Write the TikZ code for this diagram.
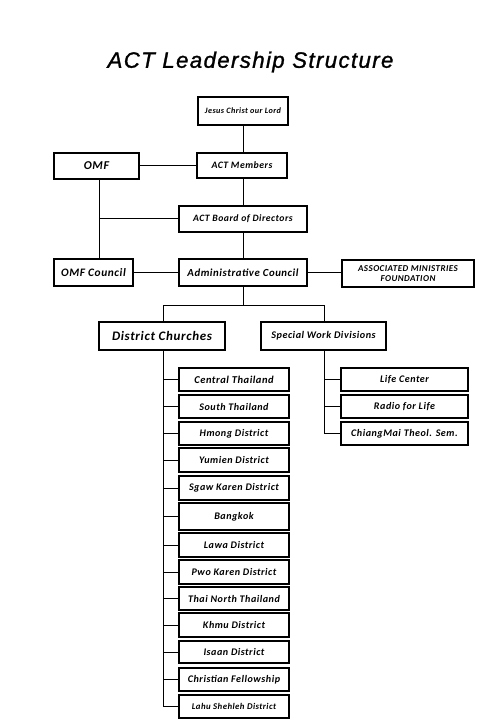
\documentclass[tikz,border=0pt]{standalone}
\usepackage{fontspec}
\setmainfont[LetterSpace=5]{Carlito}
\newfontfamily\titlefont[LetterSpace=6,FakeBold=1.2]{Liberation Sans}
\begin{document}
\begin{tikzpicture}[x=1pt,y=-1pt,
  box/.style={draw,line width=1.7pt,inner sep=1pt,align=center,font=\bfseries\itshape\fontsize{10}{11}\selectfont},
  dbox/.style={box,minimum width=110pt,minimum height=23pt,font=\bfseries\itshape\fontsize{10.1}{11}\selectfont},
  sbox/.style={box,minimum width=127pt,minimum height=23pt,font=\bfseries\itshape\fontsize{10.1}{11}\selectfont},
  conn/.style={line width=1pt}]
\useasboundingbox (0,0) rectangle (486,719);
\node[font=\titlefont\itshape\fontsize{22.3}{26}\selectfont] (title) at (250.5,62) {ACT Leadership Structure};

\node[box,minimum width=90pt,minimum height=28pt,font=\bfseries\itshape\fontsize{8.2}{9}\selectfont] (jc) at (243,111) {Jesus Christ our Lord};
\node[box,minimum width=85pt,minimum height=26pt,font=\bfseries\itshape\fontsize{12}{13}\selectfont] (omf) at (96.5,166) {OMF};
\node[box,minimum width=90pt,minimum height=25pt,font=\bfseries\itshape\fontsize{9.8}{10}\selectfont] (mem) at (242,165.5) {ACT Members};
\node[box,minimum width=128pt,minimum height=26pt,font=\bfseries\itshape\fontsize{9.7}{10}\selectfont] (board) at (243,219) {ACT Board of Directors};
\node[box,minimum width=79pt,minimum height=27pt,font=\bfseries\itshape\fontsize{11.4}{12}\selectfont] (omfc) at (93.5,272.5) {OMF Council};
\node[box,minimum width=128pt,minimum height=27pt,font=\bfseries\itshape\fontsize{10.8}{11}\selectfont] (admin) at (243,272.5) {Administrative Council};
\node[box,minimum width=132pt,minimum height=27pt,font=\bfseries\itshape\fontsize{9}{10}\selectfont] (amf) at (408,273.5) {ASSOCIATED MINISTRIES\\FOUNDATION};

\node[box,minimum width=126pt,minimum height=28pt,font=\bfseries\itshape\fontsize{13}{14}\selectfont] (dc) at (162,336) {District Churches};
\node[box,minimum width=125pt,minimum height=28pt,font=\bfseries\itshape\fontsize{10.2}{11}\selectfont] (sw) at (323.5,336) {Special Work Divisions};

\node[dbox,font=\bfseries\itshape\fontsize{10.5}{11}\selectfont] (d1) at (234,379.5) {Central Thailand};
\node[dbox] (d2) at (234,406.5) {South Thailand};
\node[dbox] (d3) at (234,433.5) {Hmong District};
\node[dbox,minimum height=24pt] (d4) at (234,460) {Yumien District};
\node[dbox,minimum height=24pt] (d5) at (234,488) {Sgaw Karen District};
\node[dbox,minimum height=27pt] (d6) at (234,516.5) {Bangkok};
\node[dbox,minimum height=24pt] (d7) at (234,545) {Lawa District};
\node[dbox,minimum height=24pt] (d8) at (234,572) {Pwo Karen District};
\node[dbox] (d9) at (234,598.5) {Thai North Thailand};
\node[dbox,minimum height=24pt] (d10) at (234,625) {Khmu District};
\node[dbox,minimum height=22pt] (d11) at (234,652) {Isaan District};
\node[dbox] (d12) at (234,679.5) {Christian Fellowship};
\node[dbox,font=\bfseries\itshape\fontsize{8.8}{9}\selectfont] (d13) at (234,706.5) {Lahu Shehleh District};

\node[sbox] (s1) at (404.5,379.5) {Life Center};
\node[sbox] (s2) at (404.5,406.5) {Radio for Life};
\node[sbox] (s3) at (404.5,433.5) {ChiangMai Theol. Sem.};

\coordinate (ov) at (99,166);
\coordinate (split) at (243,305);
\coordinate (dt) at (163,305);
\coordinate (st) at (324,305);

\draw[conn] (jc.south) -- (jc.south |- mem.north);
\draw[conn] (omf.east) -- (omf.east -| mem.west);
\draw[conn] (mem.south -| board.north) -- (board.north);
\draw[conn] (ov |- omf.south) -- (ov |- omfc.north);
\draw[conn] (ov |- board.west) -- (board.west);
\draw[conn] (board.south) -- (admin.north);
\draw[conn] (omfc.east) -- (admin.west);
\draw[conn] (admin.east) -- (admin.east -| amf.west);
\draw[conn] (admin.south) -- (split);
\draw[conn] (dt) -- (st);
\draw[conn] (dt) -- (dt |- dc.north);
\draw[conn] (st) -- (st |- sw.north);
\draw[conn] (dt |- dc.south) -- (dt |- d13.west) -- (d13.west);
\foreach \i in {1,...,12} \draw[conn] (dt |- d\i.west) -- (d\i.west);
\draw[conn] (st |- sw.south) -- (st |- s3.west) -- (s3.west);
\foreach \i in {1,2} \draw[conn] (st |- s\i.west) -- (s\i.west);
\end{tikzpicture}
\end{document}
